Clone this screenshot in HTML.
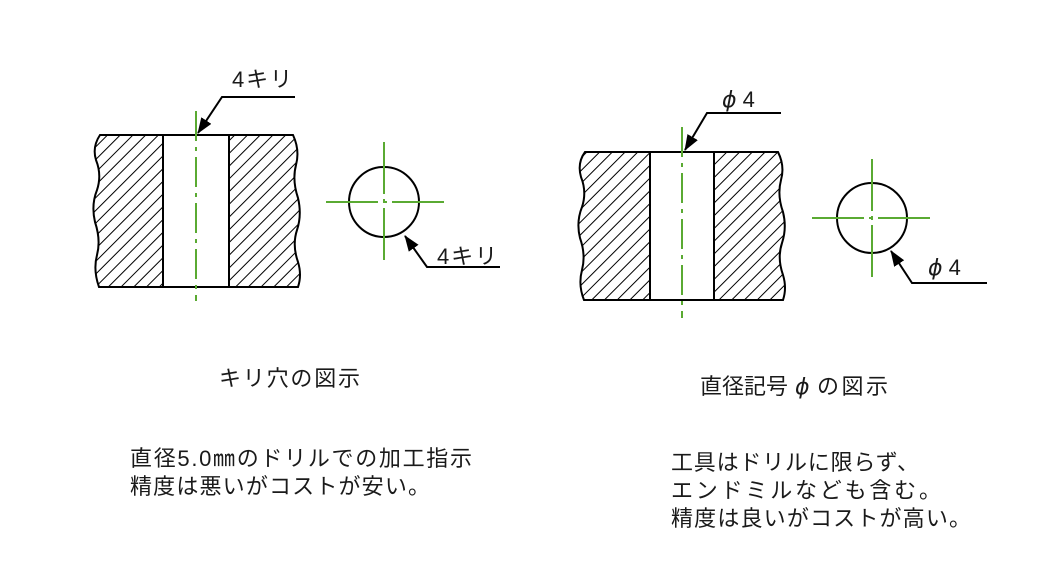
<!DOCTYPE html>
<html><head><meta charset="utf-8"><style>
html,body{margin:0;padding:0;background:#fff;}
svg{display:block;}
text{font-family:"Liberation Sans","Noto Sans CJK JP",sans-serif;font-size:22px;fill:#1a1a1a;}
.p{font-family:"DejaVu Sans","Liberation Sans",sans-serif;font-style:italic;font-size:22px;}
</style></head><body>
<svg width="1058" height="565" viewBox="0 0 1058 565" xmlns="http://www.w3.org/2000/svg">
<defs>
<pattern id="h" patternUnits="userSpaceOnUse" width="9" height="9" patternTransform="rotate(45)">
<line x1="0" y1="0" x2="0" y2="9" stroke="#000" stroke-width="2"/>
</pattern>
<marker id="a" markerWidth="16" markerHeight="12" refX="15" refY="6" orient="auto" markerUnits="userSpaceOnUse">
<path d="M0,0 L16,6 L0,12 Z" fill="#000"/>
</marker>
</defs>
<g stroke="#000" stroke-width="2" fill="url(#h)">
<path d="M100,135 L163,135 L163,287 L99,287 Q93,270 97,255 Q101,240 95,222 Q91,205 97,190 Q102,175 96,160 Q92,147 100,135 Z"/>
<path d="M229,135 L293,135 Q300,150 296,165 Q292,180 298,198 Q302,215 297,230 Q292,245 298,262 Q302,275 298,287 L229,287 Z"/>
<line x1="163" y1="135" x2="229" y2="135"/><line x1="163" y1="287" x2="229" y2="287"/>
<path d="M585,152 L650,152 L650,300 L584,300 Q578,285 582,270 Q586,255 580,238 Q576,222 582,207 Q587,192 581,177 Q577,163 585,152 Z"/>
<path d="M714,152 L778,152 Q785,166 781,180 Q777,195 783,212 Q787,228 782,243 Q777,258 783,275 Q787,288 783,300 L714,300 Z"/>
<line x1="650" y1="152" x2="714" y2="152"/><line x1="650" y1="300" x2="714" y2="300"/>
</g>
<g stroke="#000" stroke-width="2" fill="none">
<circle cx="384" cy="202" r="35"/>
<circle cx="872" cy="218" r="35"/>
<polyline points="295,97 222,97 198,133" marker-end="url(#a)"/>
<polyline points="500,267 427,267 405,236" marker-end="url(#a)"/>
<polyline points="781,113 707,113 685,150" marker-end="url(#a)"/>
<polyline points="987,283 912,283 891,251" marker-end="url(#a)"/>
</g>
<g stroke="#5aaa32" stroke-width="2" fill="none">
<line x1="196" y1="111" x2="196" y2="301" stroke-dasharray="30,6,4,6"/>
<line x1="326" y1="202" x2="444" y2="202" stroke-dasharray="52,5,4,5"/>
<line x1="384" y1="142" x2="384" y2="260" stroke-dasharray="52,5,4,5"/>
<line x1="682" y1="127" x2="682" y2="318" stroke-dasharray="30,6,4,6"/>
<line x1="812" y1="218" x2="930" y2="218" stroke-dasharray="52,5,4,5"/>
<line x1="872" y1="159" x2="872" y2="277" stroke-dasharray="52,5,4,5"/>
</g>
<text x="232" y="87" textLength="60">4キリ</text>
<text x="437" y="264" textLength="60">4キリ</text>
<text x="722" y="107"><tspan class="p">ϕ</tspan> 4</text>
<text x="928" y="275"><tspan class="p">ϕ</tspan> 4</text>
<text x="219" y="386" textLength="141">キリ穴の図示</text>
<text x="700" y="394">直径記号</text>
<text x="795" y="394" class="p">ϕ</text>
<text x="817" y="394" textLength="71">の図示</text>
<text x="130" y="466" textLength="342">直径5.0㎜のドリルでの加工指示</text>
<text x="130" y="494" textLength="300">精度は悪いがコストが安い。</text>
<text x="671" y="470" textLength="248">工具はドリルに限らず、</text>
<text x="671" y="498" textLength="270">エンドミルなども含む。</text>
<text x="671" y="526" textLength="300">精度は良いがコストが高い。</text>
</svg>
</body></html>
